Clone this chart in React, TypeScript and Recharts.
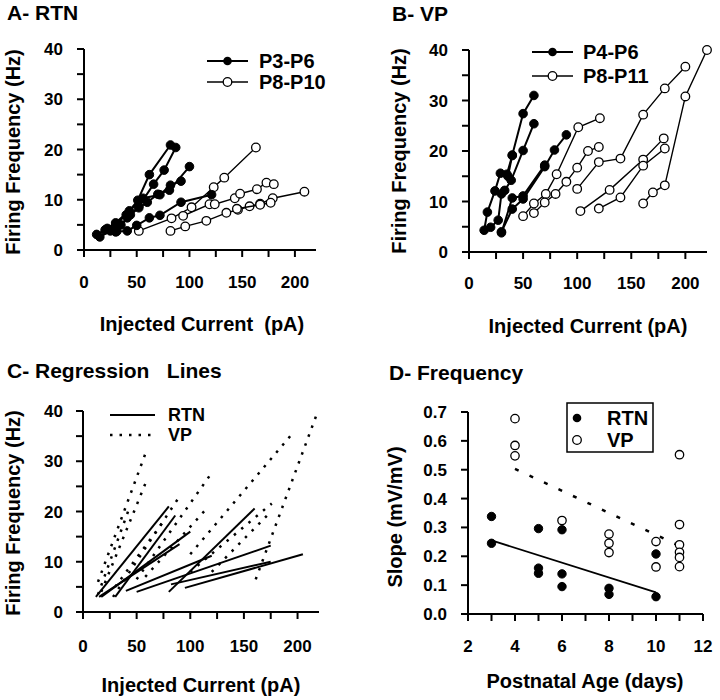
import { ScatterChart, Scatter, XAxis, YAxis, Legend } from 'recharts'

const FONT = '"Liberation Sans", Arial, Helvetica, sans-serif'
const INK = '#000'

// A - RTN: one list per cell, [injected current pA, firing frequency Hz]
const rtnP3P6 = [
  [[12, 3.1], [20, 4.0], [30, 5.1], [40, 7.0], [51, 9.9], [62, 15.0], [82, 20.9]],
  [[15, 2.6], [25, 3.8], [35, 5.0], [44, 7.0], [52, 8.7], [66, 13.1], [76, 15.9], [87, 20.4]],
  [[22, 4.3], [30, 5.4], [43, 7.8], [56, 10.3], [72, 11.0], [82, 12.9], [92, 13.7]],
  [[30, 3.6], [41, 6.4], [52, 8.4], [60, 9.5], [70, 11.1], [81, 11.9], [100, 16.6]],
  [[31, 3.7], [41, 3.8], [50, 4.9], [62, 6.4], [72, 6.9], [92, 9.5], [121, 11.0]],
]
const rtnP8P10 = [
  [[52, 3.8], [83, 6.3], [102, 8.5], [123, 12.5], [133, 14.4], [163, 20.4]],
  [[82, 3.8], [96, 4.7], [116, 5.8], [135, 7.4], [146, 8.0], [157, 8.7], [167, 9.2], [179, 10.3], [209, 11.6]],
  [[94, 6.8], [119, 9.1], [124, 9.1], [143, 10.3], [148, 11.2], [164, 12.1], [173, 13.4], [180, 13.1]],
  [[145, 8.2], [167, 9.0], [177, 9.4]],
]

// B - VP
const vpP4P6 = [
  [[14, 4.3], [17, 7.9], [24, 12.1], [29, 15.6], [35, 15.4], [40, 19.1]],
  [[20, 4.9], [27, 6.3], [30, 11.5], [33, 12.2], [39, 14.2], [50, 20.1], [60, 25.4]],
  [[30, 4.0], [40, 8.5], [50, 10.5], [70, 16.9], [79, 20.2], [90, 23.2]],
  [[36, 15.0], [40, 19.2], [50, 27.4], [60, 31.0]],
  [[30, 3.8], [40, 10.7], [50, 11.1], [70, 17.2]],
]
const vpP8P11 = [
  [[50, 7.1], [60, 9.6], [71, 11.5], [81, 15.4], [101, 24.7], [121, 26.5]],
  [[60, 7.7], [70, 9.8], [80, 11.5], [90, 13.9], [100, 16.7], [110, 20.0], [120, 20.8]],
  [[100, 12.5], [120, 17.8], [140, 18.5], [161, 27.2], [181, 32.4], [200, 36.7]],
  [[103, 8.1], [130, 12.3], [161, 18.3], [180, 22.5]],
  [[120, 8.6], [140, 10.8], [161, 17.1], [181, 20.5]],
  [[161, 9.6], [170, 11.8], [181, 13.2], [200, 30.8], [220, 40.0]],
]

// C - regression lines, [start, end]
const rtnFits = [
  [[12, 3.0], [80, 21.0]],
  [[30, 3.0], [86, 19.2]],
  [[15, 3.0], [90, 13.5]],
  [[17, 3.0], [100, 16.0]],
  [[40, 4.2], [120, 11.2]],
  [[50, 4.0], [175, 13.2]],
  [[80, 4.0], [160, 20.6]],
  [[95, 4.8], [205, 11.5]],
  [[82, 5.5], [175, 10.0]],
]
const vpFits = [
  [[14, 6.0], [59, 32.0]],
  [[17, 4.0], [59, 26.0]],
  [[14, 3.5], [42, 20.0]],
  [[28, 3.0], [90, 23.0]],
  [[30, 5.0], [75, 18.0]],
  [[50, 6.5], [121, 28.0]],
  [[58, 7.0], [117, 21.0]],
  [[100, 11.5], [194, 35.2]],
  [[100, 8.0], [176, 21.6]],
  [[120, 8.0], [174, 19.7]],
  [[161, 6.5], [219, 40.0]],
]

// D - slope vs postnatal age
const ageRtn = [3, 3, 5, 5, 5, 6, 6, 6, 8, 8, 10, 10]
const slopeRtn = [0.338, 0.245, 0.296, 0.159, 0.141, 0.292, 0.139, 0.095, 0.089, 0.068, 0.208, 0.06]
const ageVp = [4, 4, 4, 6, 8, 8, 8, 10, 10, 11, 11, 11, 11, 11, 11]
const slopeVp = [0.677, 0.584, 0.548, 0.324, 0.277, 0.245, 0.213, 0.251, 0.163, 0.552, 0.31, 0.24, 0.214, 0.196, 0.164]
const rtnSlopeFit = [[3, 0.255], [10, 0.075]]
const vpSlopeFit = [[4, 0.503], [11, 0.236]]

const currentTicks = [0, 25, 50, 75, 100, 125, 150, 175, 200]
const freqTicks = [0, 5, 10, 15, 20, 25, 30, 35, 40]
const ageTicks = [2, 3, 4, 5, 6, 7, 8, 9, 10, 11, 12]
const slopeTicks = [0, 0.1, 0.2, 0.3, 0.4, 0.5, 0.6, 0.7]

const toPts = (cell: number[][]) => cell.map(([x, y]) => ({ x, y }))
const zipPts = (xs: number[], ys: number[]) => xs.map((x, i) => ({ x, y: ys[i] }))

const axisLine = { stroke: INK, strokeWidth: 2 }
const tickLine = { stroke: INK, strokeWidth: 2 }
const tickFont = { fill: INK, fontSize: 17, fontWeight: 700, fontFamily: FONT }
const titleFont = { fill: INK, fontSize: 20, fontWeight: 700, fontFamily: FONT }

// label only every `step`, the other ticks stay as bare marks
const tickLabelsAt = (step: number) => (v: number) => (Math.abs(v / step - Math.round(v / step)) < 1e-6 ? String(v) : '')

const filledDot = (r: number) => (p: any) => (
  <circle cx={p.cx} cy={p.cy} r={r} fill={INK} stroke={INK} strokeWidth={1} />
)
const openDot = (r: number) => (p: any) => (
  <circle cx={p.cx} cy={p.cy} r={r} fill="#fff" stroke={INK} strokeWidth={1.3} />
)
const noDot = () => <g />

const xTitle = (text: string, cx: number, base: number) => () => (
  <text x={cx} y={base} textAnchor="middle" style={{ whiteSpace: 'pre' }} {...titleFont}>{text}</text>
)
const yTitle = (text: string, bx: number, cy: number) => () => (
  <text x={bx} y={cy} transform={`rotate(-90 ${bx} ${cy})`} textAnchor="middle" {...titleFont}>{text}</text>
)

type Key = { label: string; mark: 'filled' | 'open' | 'solid' | 'dotted' }

function KeyRows({ keys, rows, x0, x1, tx, dot, size = 20 }: { keys: Key[]; rows: number[]; x0: number; x1: number; tx: number; dot?: boolean; size?: number }) {
  return (
    <>
      {keys.map((k, i) => {
        const y = rows[i]
        const mid = (x0 + x1) / 2
        return (
          <g key={k.label}>
            {!dot && k.mark !== 'dotted' && <line x1={x0} x2={x1} y1={y} y2={y} stroke={INK} strokeWidth={k.mark === 'open' ? 1.4 : 2} />}
            {k.mark === 'dotted' && <line x1={x0} x2={x1} y1={y} y2={y} stroke={INK} strokeWidth={2.5} strokeDasharray="2.5 7" />}
            {k.mark === 'filled' && <circle cx={mid} cy={y} r={4.3} fill={INK} />}
            {k.mark === 'open' && <circle cx={mid} cy={y} r={4.3} fill="#fff" stroke={INK} strokeWidth={1.3} />}
            <text x={tx} y={y} dy="0.36em" {...titleFont} fontSize={size}>{k.label}</text>
          </g>
        )
      })}
    </>
  )
}

const legendPos = (left: number, top: number, width: number, height: number) => ({
  left, top, width, height, margin: 0, padding: 0, lineHeight: 0,
})

export default function App() {
  return (
    <div style={{ position: 'absolute', left: 0, top: 0, width: 720, height: 700, background: '#fff' }}>
      <svg width={720} height={700} style={{ position: 'absolute', left: 0, top: 0 }}>
        <text x={7} y={20} {...titleFont} fontSize={21}>A- RTN</text>
        <text x={392} y={21} {...titleFont} fontSize={21}>B- VP</text>
        <text x={7} y={378} {...titleFont} fontSize={21} style={{ whiteSpace: 'pre' }}>C- Regression   Lines</text>
        <text x={389} y={380} {...titleFont} fontSize={21}>D- Frequency</text>
      </svg>

      {/* A */}
      <div style={{ position: 'absolute', left: 0, top: 0 }}>
        <ScatterChart width={360} height={345} margin={{ top: 49, right: 44, bottom: 0, left: 0 }}>
          <XAxis type="number" dataKey="x" domain={[0, 220]} ticks={currentTicks} interval={0}
            axisLine={axisLine} tickLine={tickLine} tickSize={7} tickMargin={19}
            tick={tickFont} tickFormatter={tickLabelsAt(50)}
            height={95} label={xTitle('Injected Current  (pA)', 202, 331)} />
          <YAxis type="number" dataKey="y" domain={[0, 40]} ticks={freqTicks} interval={0}
            axisLine={axisLine} tickLine={tickLine} tickSize={7} tickMargin={14}
            tick={tickFont} tickFormatter={tickLabelsAt(10)}
            width={84} label={yTitle('Firing Frequency (Hz)', 20, 152)} />
          {rtnP8P10.map((c, i) => (
            <Scatter key={'o' + i} data={toPts(c)} line={{ stroke: INK, strokeWidth: 1.4 }} shape={openDot(4.3)} isAnimationActive={false} />
          ))}
          {rtnP3P6.map((c, i) => (
            <Scatter key={'f' + i} data={toPts(c)} line={{ stroke: INK, strokeWidth: 2 }} shape={filledDot(4.3)} isAnimationActive={false} />
          ))}
          <Legend layout="vertical" align="center" verticalAlign="middle" wrapperStyle={legendPos(200, 45, 130, 50)}
            content={() => (
              <svg width={130} height={50} style={{ display: 'block' }}>
                <KeyRows keys={[{ label: 'P3-P6', mark: 'filled' }, { label: 'P8-P10', mark: 'open' }]} rows={[16, 37]} x0={7} x1={48} tx={59} />
              </svg>
            )} />
        </ScatterChart>
      </div>

      {/* B */}
      <div style={{ position: 'absolute', left: 360, top: 0 }}>
        <ScatterChart width={360} height={345} margin={{ top: 50, right: 13, bottom: 0, left: 0 }}>
          <XAxis type="number" dataKey="x" domain={[0, 220]} ticks={currentTicks} interval={0}
            axisLine={axisLine} tickLine={tickLine} tickSize={7} tickMargin={18}
            tick={tickFont} tickFormatter={tickLabelsAt(50)}
            height={93} label={xTitle('Injected Current (pA)', 228, 333)} />
          <YAxis type="number" dataKey="y" domain={[0, 40]} ticks={freqTicks} interval={0}
            axisLine={axisLine} tickLine={tickLine} tickSize={7} tickMargin={14}
            tick={tickFont} tickFormatter={tickLabelsAt(10)}
            width={109} label={yTitle('Firing Frequency (Hz)', 46, 151)} />
          {vpP8P11.map((c, i) => (
            <Scatter key={'o' + i} data={toPts(c)} line={{ stroke: INK, strokeWidth: 1.4 }} shape={openDot(4.3)} isAnimationActive={false} />
          ))}
          {vpP4P6.map((c, i) => (
            <Scatter key={'f' + i} data={toPts(c)} line={{ stroke: INK, strokeWidth: 2 }} shape={filledDot(4.3)} isAnimationActive={false} />
          ))}
          <Legend layout="vertical" align="center" verticalAlign="middle" wrapperStyle={legendPos(165, 38, 140, 50)}
            content={() => (
              <svg width={140} height={50} style={{ display: 'block' }}>
                <KeyRows keys={[{ label: 'P4-P6', mark: 'filled' }, { label: 'P8-P11', mark: 'open' }]} rows={[14, 38]} x0={7} x1={48} tx={58} />
              </svg>
            )} />
        </ScatterChart>
      </div>

      {/* C */}
      <div style={{ position: 'absolute', left: 0, top: 345 }}>
        <ScatterChart width={360} height={355} margin={{ top: 66, right: 41, bottom: 0, left: 0 }}>
          <XAxis type="number" dataKey="x" domain={[0, 220]} ticks={currentTicks} interval={0}
            axisLine={axisLine} tickLine={tickLine} tickSize={7} tickMargin={21}
            tick={tickFont} tickFormatter={tickLabelsAt(50)}
            height={88} label={xTitle('Injected Current (pA)', 201, 347)} />
          <YAxis type="number" dataKey="y" domain={[0, 40]} ticks={freqTicks} interval={0}
            axisLine={axisLine} tickLine={tickLine} tickSize={7} tickMargin={13}
            tick={tickFont} tickFormatter={tickLabelsAt(10)}
            width={83} label={yTitle('Firing Frequency (Hz)', 20, 168)} />
          {vpFits.map((c, i) => (
            <Scatter key={'v' + i} data={toPts(c)} line={{ stroke: INK, strokeWidth: 2.5, strokeDasharray: '2.5 7' }} shape={noDot} isAnimationActive={false} />
          ))}
          {rtnFits.map((c, i) => (
            <Scatter key={'r' + i} data={toPts(c)} line={{ stroke: INK, strokeWidth: 2 }} shape={noDot} isAnimationActive={false} />
          ))}
          <Legend layout="vertical" align="center" verticalAlign="middle" wrapperStyle={legendPos(105, 58, 120, 42)}
            content={() => (
              <svg width={120} height={42} style={{ display: 'block' }}>
                <KeyRows keys={[{ label: 'RTN', mark: 'solid' }, { label: 'VP', mark: 'dotted' }]} rows={[12, 32]} x0={5} x1={50} tx={63} size={18} />
              </svg>
            )} />
        </ScatterChart>
      </div>

      {/* D */}
      <div style={{ position: 'absolute', left: 360, top: 345 }}>
        <ScatterChart width={360} height={355} margin={{ top: 67, right: 17, bottom: 0, left: 0 }}>
          <XAxis type="number" dataKey="x" domain={[2, 12]} ticks={ageTicks} interval={0}
            axisLine={axisLine} tickLine={tickLine} tickSize={7} tickMargin={19}
            tick={tickFont} tickFormatter={tickLabelsAt(2)}
            height={86} label={xTitle('Postnatal Age (days)', 225, 343)} />
          <YAxis type="number" dataKey="y" domain={[0, 0.7]} ticks={slopeTicks} interval={0}
            axisLine={axisLine} tickLine={tickLine} tickSize={7} tickMargin={14}
            tick={tickFont} tickFormatter={(v) => Number(v).toFixed(1)}
            width={108} label={yTitle('Slope (mV/mV)', 42, 172)} />
          <Scatter data={toPts(vpSlopeFit)} line={{ stroke: INK, strokeWidth: 2.5, strokeDasharray: '4 12' }} shape={noDot} isAnimationActive={false} />
          <Scatter data={toPts(rtnSlopeFit)} line={{ stroke: INK, strokeWidth: 1.8 }} shape={noDot} isAnimationActive={false} />
          <Scatter data={zipPts(ageVp, slopeVp)} shape={openDot(4.2)} isAnimationActive={false} />
          <Scatter data={zipPts(ageRtn, slopeRtn)} shape={filledDot(4.2)} isAnimationActive={false} />
          <Legend layout="vertical" align="center" verticalAlign="middle" wrapperStyle={legendPos(206, 57, 88, 51)}
            content={() => (
              <svg width={88} height={51} style={{ display: 'block' }}>
                <rect x={1} y={1} width={86} height={49} fill="#fff" stroke={INK} strokeWidth={1.5} />
                <KeyRows keys={[{ label: 'RTN', mark: 'filled' }, { label: 'VP', mark: 'open' }]} rows={[16, 38]} x0={11} x1={11} tx={41} dot />
              </svg>
            )} />
        </ScatterChart>
      </div>
    </div>
  )
}
